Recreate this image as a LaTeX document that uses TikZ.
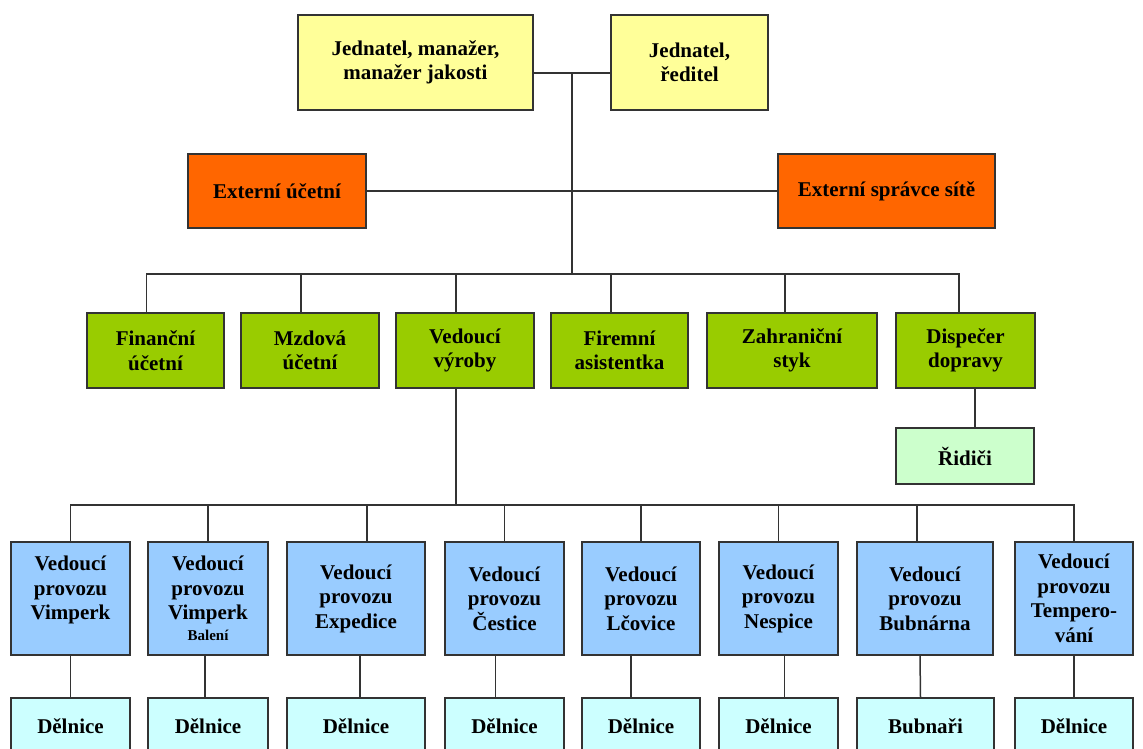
\documentclass[tikz,border=0pt]{standalone}
\usepackage{fontspec}
\setmainfont{Liberation Serif}
\definecolor{bossyellow}{HTML}{FFFF99}
\definecolor{externorange}{HTML}{FF6600}
\definecolor{deptgreen}{HTML}{99CC00}
\definecolor{drivergreen}{HTML}{CCFFCC}
\definecolor{plantblue}{HTML}{99CCFF}
\definecolor{crewcyan}{HTML}{CCFFFF}
\newcommand\balfont{\fontsize{15}{18}\selectfont}
\begin{document}
\begin{tikzpicture}
[
    x=1pt, y=-1pt,
    box/.style={draw=black!80, line width=1.5pt, inner sep=0pt, align=center,
        font=\fontsize{21}{24.5}\selectfont\bfseries},
    boss/.style={box, fill=bossyellow, minimum height=95pt},
    extern/.style={box, fill=externorange, minimum height=74pt},
    dept/.style={box, fill=deptgreen, minimum height=75pt},
    driver/.style={box, fill=drivergreen, minimum height=56pt},
    plant/.style={box, fill=plantblue, minimum height=113pt},
    crew/.style={box, fill=crewcyan, minimum height=56pt},
    link/.style={draw=black!80, line width=1.5pt},
]
\useasboundingbox (0,0) rectangle (1143,749);
\clip (0,0) rectangle (1143,749);
\coordinate (top) at (572,73);
\coordinate (mid) at (572,274);
\coordinate (low) at (456,505);
\node[boss, minimum width=235pt] (jm) at (415.5,62.5) {Jednatel, manažer,\\manažer jakosti};
\node[boss, minimum width=157pt] (jr) at (689.5,62.5) {Jednatel,\\ředitel};
\node[extern, minimum width=178pt] (eu) at (277,191) {Externí účetní};
\node[extern, minimum width=217pt] (es) at (886.5,191) {Externí správce sítě};
\node[dept, minimum width=137pt] (fin) at (155.5,350.5) {Finanční\\účetní};
\node[dept, minimum width=138pt] (mzd) at (310,350.5) {Mzdová\\účetní};
\node[dept, minimum width=138pt] (vyr) at (465,350.5) {Vedoucí\\výroby};
\node[dept, minimum width=137pt] (fir) at (619.5,350.5) {Firemní\\asistentka};
\node[dept, minimum width=170pt] (zah) at (792,350.5) {Zahraniční\\styk};
\node[dept, minimum width=139pt] (disp) at (965.5,350.5) {Dispečer\\dopravy};
\node[driver, minimum width=138pt] (rid) at (965,456) {Řidiči};
\node[plant, minimum width=119pt] (vim) at (70.5,598.5) {Vedoucí\\provozu\\Vimperk\\[-3.5pt]{\balfont\phantom{Balení}}};
\node[plant, minimum width=120pt] (bal) at (208,598.5) {Vedoucí\\provozu\\Vimperk\\[-3.5pt]{\balfont Balení}};
\node[plant, minimum width=138pt] (exp) at (356,598.5) {Vedoucí\\provozu\\Expedice};
\node[plant, minimum width=119pt] (ces) at (504.5,598.5) {Vedoucí\\provozu\\Čestice};
\node[plant, minimum width=118pt] (lco) at (641,598.5) {Vedoucí\\provozu\\Lčovice};
\node[plant, minimum width=119pt] (nes) at (778.5,598.5) {Vedoucí\\provozu\\Nespice};
\node[plant, minimum width=136pt] (bub) at (925,598.5) {Vedoucí\\provozu\\Bubnárna};
\node[plant, minimum width=118pt] (tem) at (1074,598.5) {Vedoucí\\provozu\\Tempero-\\vání};
\node[crew, minimum width=119pt] (vimd) at (70.5,726) {Dělnice};
\node[crew, minimum width=120pt] (bald) at (208,726) {Dělnice};
\node[crew, minimum width=138pt] (expd) at (356,726) {Dělnice};
\node[crew, minimum width=119pt] (cesd) at (504.5,726) {Dělnice};
\node[crew, minimum width=118pt] (lcod) at (641,726) {Dělnice};
\node[crew, minimum width=119pt] (nesd) at (778.5,726) {Dělnice};
\node[crew, minimum width=137pt] (bubd) at (925.5,726) {Bubnaři};
\node[crew, minimum width=118pt] (temd) at (1074,726) {Dělnice};
\draw[link] (jm.east |- top) -- (jr.west |- top);
\draw[link] (top) -- (mid);
\draw[link] (eu.east) -- (es.west);
\draw[link] ([xshift=-9pt]fin.north) |- (mid) -| ([xshift=-6.5pt]disp.north);
\draw[link] ([xshift=-9pt]mzd.north) -- ([xshift=-9pt]mzd.north |- mid);
\draw[link] ([xshift=-9pt]vyr.north) -- ([xshift=-9pt]vyr.north |- mid);
\draw[link] ([xshift=-8.5pt]fir.north) -- ([xshift=-8.5pt]fir.north |- mid);
\draw[link] ([xshift=-7pt]zah.north) -- ([xshift=-7pt]zah.north |- mid);
\draw[link] ([xshift=9.5pt]disp.south) -- ([xshift=9.5pt]disp.south |- rid.north);
\draw[link] ([xshift=-9pt]vyr.south) -- (low);
\draw[link] (vim.north) |- (low) -| (tem.north);
\draw[link] (bal.north) -- (bal.north |- low);
\draw[link] ([xshift=11pt]exp.north) -- ([xshift=11pt]exp.north |- low);
\draw[link] (ces.north) -- (ces.north |- low);
\draw[link] (lco.north) -- (lco.north |- low);
\draw[link] (nes.north) -- (nes.north |- low);
\draw[link] ([xshift=-8pt]bub.north) -- ([xshift=-8pt]bub.north |- low);
\draw[link] (vim.south) -- (vimd.north);
\draw[link] ([xshift=-3pt]bal.south) -- ([xshift=-3pt]bald.north);
\draw[link] ([xshift=4pt]exp.south) -- ([xshift=4pt]expd.north);
\draw[link] ([xshift=-9pt]ces.south) -- ([xshift=-9pt]cesd.north);
\draw[link] ([xshift=-10pt]lco.south) -- ([xshift=-10pt]lcod.north);
\draw[link] ([xshift=6pt]nes.south) -- ([xshift=6pt]nesd.north);
\draw[link] ([xshift=-5pt]bub.south) -- ([xshift=-5pt]bubd.north);
\draw[link] (tem.south) -- (temd.north);
\end{tikzpicture}
\end{document}
